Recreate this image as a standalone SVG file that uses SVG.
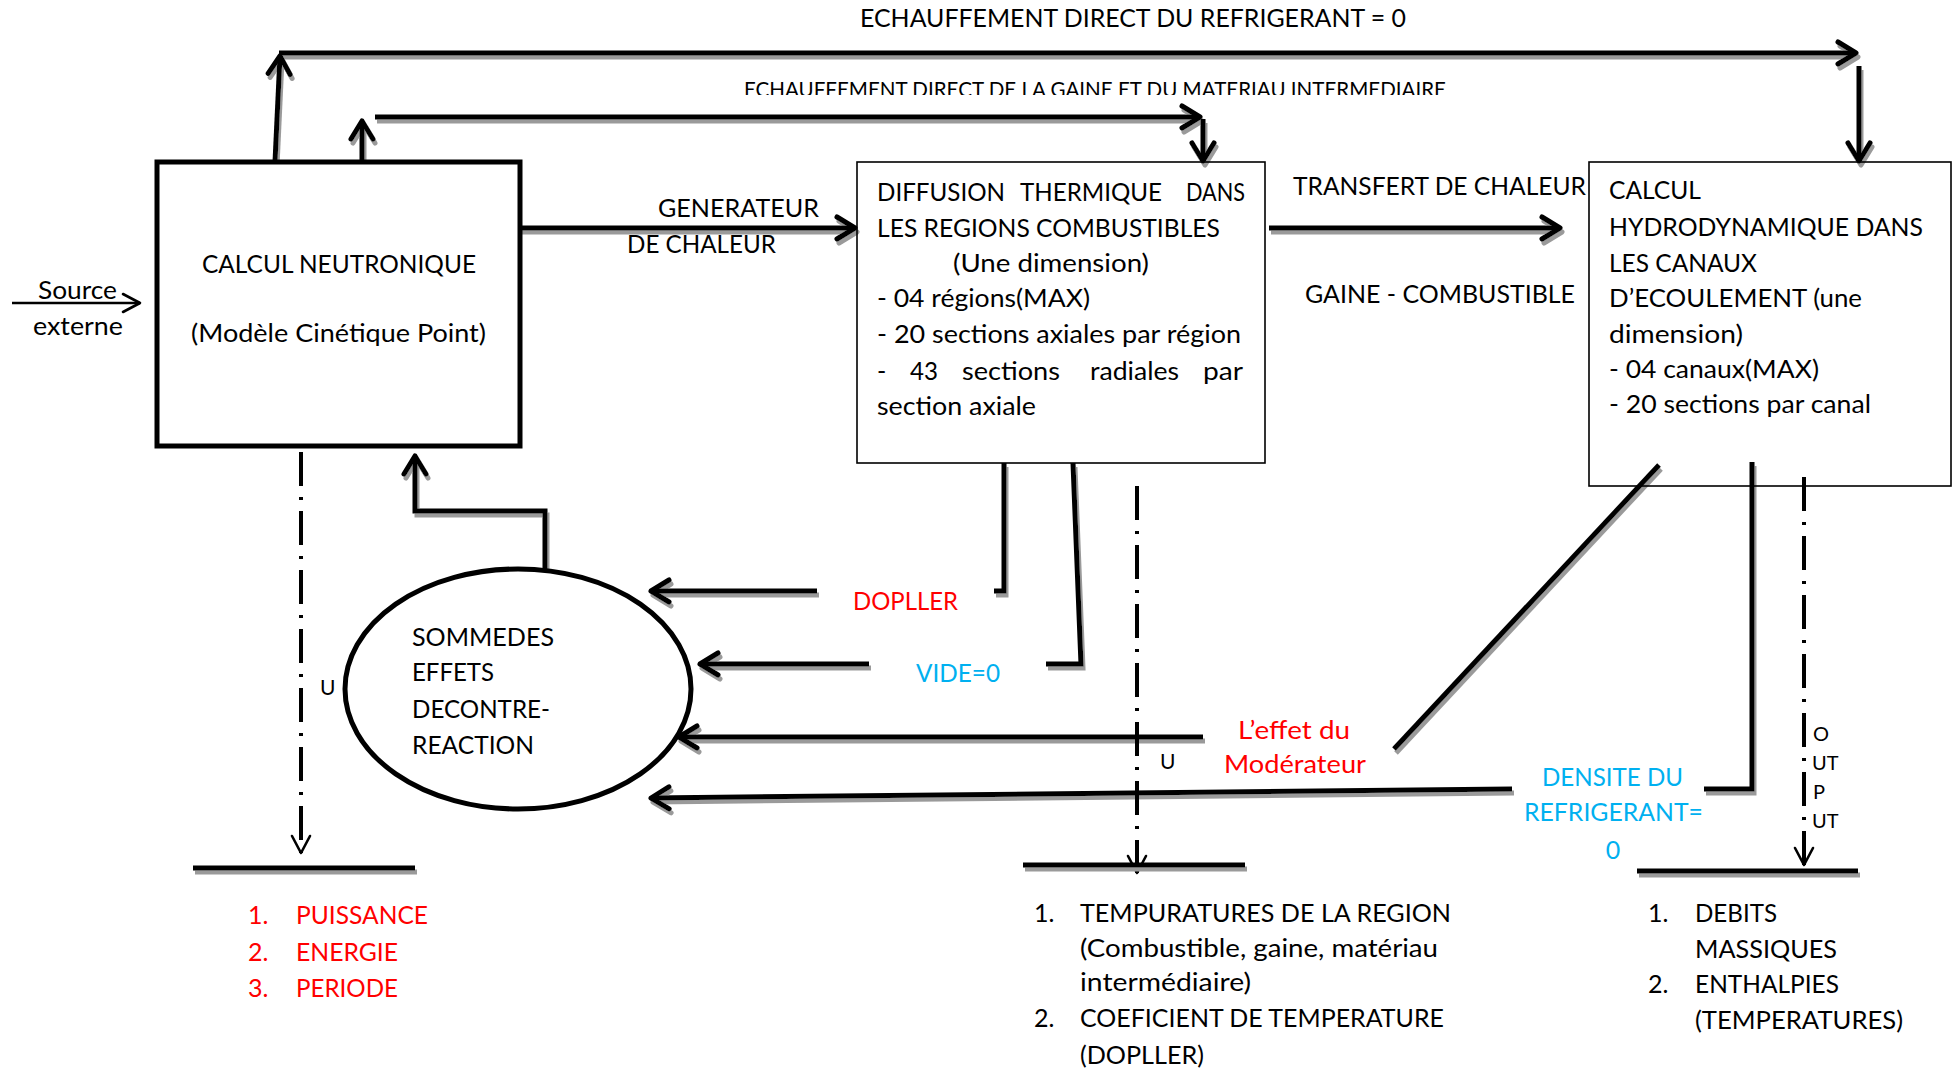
<svg xmlns="http://www.w3.org/2000/svg" width="1957" height="1073" viewBox="0 0 1957 1073">
  <style>
    text { font-family: Lato, "Liberation Sans", sans-serif; font-size: 25px; fill: #000; }
    .sm { font-size: 21px; }
    .xs { font-size: 20px; }
    .red { fill: #ff0000; }
    .cyan { fill: #00b0f0; }
    .thick { fill: none; stroke: #000; stroke-width: 5; stroke-linejoin: miter; }
    .thin { fill: none; stroke: #000; stroke-width: 1.6; }
    .dashdot { fill: none; stroke: #000; stroke-width: 4; stroke-dasharray: 34 11 3 11; }
  </style>
  <defs>
    <filter id="shadow" filterUnits="userSpaceOnUse" x="0" y="0" width="1957" height="1073">
      <feOffset in="SourceAlpha" dx="2" dy="4" result="off"/>
      <feFlood flood-color="#9a9a9a"/>
      <feComposite in2="off" operator="in" result="sh"/>
      <feMerge><feMergeNode in="sh"/><feMergeNode in="SourceGraphic"/></feMerge>
    </filter>
    <marker id="head" viewBox="-24 -15 28 30" refX="0" refY="0" markerWidth="28" markerHeight="30" orient="auto" markerUnits="userSpaceOnUse" overflow="visible">
      <path d="M-18,-11 L0,0 L-18,11" fill="none" stroke="#000" stroke-width="5" stroke-linecap="round" stroke-linejoin="round"/>
    </marker>
    <marker id="headThin" viewBox="-20 -12 24 24" refX="0" refY="0" markerWidth="24" markerHeight="24" orient="auto" markerUnits="userSpaceOnUse" overflow="visible">
      <path d="M-17,-9 L0,0 L-17,9" fill="none" stroke="#000" stroke-width="2.6" stroke-linecap="round" stroke-linejoin="round"/>
    </marker>
    <clipPath id="cutLabel"><rect x="700" y="60" width="800" height="35"/></clipPath>
  </defs>

  <!-- connectors -->
  <g id="connectors">
    <g filter="url(#shadow)">
      <!-- direct heating of coolant -->
      <polyline class="thick" points="275,162 280,56" marker-end="url(#head)"/>
      <line class="thick" x1="279" y1="53" x2="1856" y2="53" marker-end="url(#head)"/>
      <line class="thick" x1="1859" y1="66" x2="1859" y2="161" marker-end="url(#head)"/>
      <!-- direct heating of cladding -->
      <line class="thick" x1="362" y1="162" x2="362" y2="121" marker-end="url(#head)"/>
      <line class="thick" x1="375" y1="117" x2="1200" y2="117" marker-end="url(#head)"/>
      <line class="thick" x1="1203" y1="119" x2="1203" y2="161" marker-end="url(#head)"/>
      <!-- heat source and heat transfer -->
      <line class="thick" x1="520" y1="228" x2="855" y2="228" marker-end="url(#head)"/>
      <line class="thick" x1="1269" y1="228" x2="1560" y2="228" marker-end="url(#head)"/>
      <!-- reactivity feedback back to kinetics -->
      <polyline class="thick" points="545,569 545,511 415,511 415,456" marker-end="url(#head)"/>
      <!-- Doppler -->
      <polyline class="thick" points="1004,463 1004,591 994,591"/>
      <line class="thick" x1="817" y1="591" x2="651" y2="591" marker-end="url(#head)"/>
      <!-- void -->
      <polyline class="thick" points="1073,463 1081,664 1046,664"/>
      <line class="thick" x1="869" y1="664" x2="700" y2="664" marker-end="url(#head)"/>
      <!-- moderator -->
      <line class="thick" x1="1659" y1="465" x2="1394" y2="749"/>
      <line class="thick" x1="1203" y1="737" x2="679" y2="737" marker-end="url(#head)"/>
      <!-- coolant density -->
      <polyline class="thick" points="1752,462 1752,789 1704,789"/>
      <line class="thick" x1="1512" y1="789" x2="651" y2="798" marker-end="url(#head)"/>
    </g>
    <!-- external source -->
    <line x1="12" y1="303" x2="140" y2="303" stroke="#000" stroke-width="2.6" marker-end="url(#headThin)"/>
    <!-- outputs -->
    <line class="dashdot" x1="301" y1="452" x2="301" y2="853" marker-end="url(#headThin)"/>
    <line class="dashdot" x1="1137" y1="486" x2="1137" y2="873" marker-end="url(#headThin)"/>
    <line class="dashdot" x1="1804" y1="477" x2="1804" y2="865" marker-end="url(#headThin)"/>

    <text x="860" y="27" textLength="546" lengthAdjust="spacingAndGlyphs">ECHAUFFEMENT DIRECT DU REFRIGERANT = 0</text>
    <text class="sm" x="744" y="97" textLength="702" lengthAdjust="spacingAndGlyphs" clip-path="url(#cutLabel)">ECHAUFFEMENT DIRECT DE LA GAINE ET DU MATERIAU INTERMEDIAIRE</text>
    <text x="658" y="217" textLength="161" lengthAdjust="spacingAndGlyphs">GENERATEUR</text>
    <text x="627" y="253" textLength="149" lengthAdjust="spacingAndGlyphs">DE CHALEUR</text>
    <text x="1293" y="195" textLength="293" lengthAdjust="spacingAndGlyphs">TRANSFERT DE CHALEUR</text>
    <text x="1305" y="303" textLength="270" lengthAdjust="spacingAndGlyphs">GAINE - COMBUSTIBLE</text>
    <text x="38" y="299" textLength="79" lengthAdjust="spacingAndGlyphs">Source</text>
    <text x="33" y="335" textLength="90" lengthAdjust="spacingAndGlyphs">externe</text>
    <text class="red" x="853" y="610" textLength="105" lengthAdjust="spacingAndGlyphs">DOPLLER</text>
    <text class="cyan" x="916" y="682" textLength="84" lengthAdjust="spacingAndGlyphs">VIDE=0</text>
    <text class="red" x="1238" y="739" textLength="112" lengthAdjust="spacingAndGlyphs">L’effet du</text>
    <text class="red" x="1224" y="773" textLength="142" lengthAdjust="spacingAndGlyphs">Modérateur</text>
    <text class="cyan" x="1542" y="786" textLength="141" lengthAdjust="spacingAndGlyphs">DENSITE DU</text>
    <text class="cyan" x="1524" y="821" textLength="179" lengthAdjust="spacingAndGlyphs">REFRIGERANT=</text>
    <text class="cyan" x="1613" y="859" text-anchor="middle">0</text>
    <text class="sm" x="320" y="695">U</text>
    <text class="sm" x="1160" y="769">U</text>
    <text class="xs" x="1813" y="741">O</text>
    <text class="xs" x="1812" y="770">UT</text>
    <text class="xs" x="1813" y="799">P</text>
    <text class="xs" x="1812" y="828">UT</text>
  </g>

  <!-- point kinetics -->
  <g id="node-neutronique">
    <rect x="157" y="162" width="363" height="284" fill="#fff" stroke="#000" stroke-width="5"/>
    <text x="202" y="273" textLength="274" lengthAdjust="spacingAndGlyphs">CALCUL NEUTRONIQUE</text>
    <text x="191" y="342" textLength="295" lengthAdjust="spacingAndGlyphs">(Modèle Cinétique Point)</text>
  </g>

  <!-- thermal diffusion in fuel -->
  <g id="node-diffusion">
    <rect x="857" y="162" width="408" height="301" fill="#fff" class="thin"/>
    <text x="877" y="201" textLength="128" lengthAdjust="spacingAndGlyphs">DIFFUSION</text>
    <text x="1020" y="201" textLength="142" lengthAdjust="spacingAndGlyphs">THERMIQUE</text>
    <text x="1186" y="201" textLength="59" lengthAdjust="spacingAndGlyphs">DANS</text>
    <text x="877" y="237" textLength="343" lengthAdjust="spacingAndGlyphs">LES REGIONS COMBUSTIBLES</text>
    <text x="953" y="272" textLength="196" lengthAdjust="spacingAndGlyphs">(Une dimension)</text>
    <text x="877" y="307" textLength="213" lengthAdjust="spacingAndGlyphs">- 04 régions(MAX)</text>
    <text x="877" y="343" textLength="364" lengthAdjust="spacingAndGlyphs">- 20 sections axiales par région</text>
    <text x="877" y="380">-</text>
    <text x="910" y="380" textLength="28" lengthAdjust="spacingAndGlyphs">43</text>
    <text x="962" y="380" textLength="98" lengthAdjust="spacingAndGlyphs">sections</text>
    <text x="1090" y="380" textLength="89" lengthAdjust="spacingAndGlyphs">radiales</text>
    <text x="1203" y="380" textLength="40" lengthAdjust="spacingAndGlyphs">par</text>
    <text x="877" y="415" textLength="159" lengthAdjust="spacingAndGlyphs">section axiale</text>
  </g>

  <!-- channel hydrodynamics -->
  <g id="node-hydrodynamique">
    <rect x="1589" y="162" width="362" height="324" fill="#fff" class="thin"/>
    <text x="1609" y="199" textLength="92" lengthAdjust="spacingAndGlyphs">CALCUL</text>
    <text x="1609" y="236" textLength="314" lengthAdjust="spacingAndGlyphs">HYDRODYNAMIQUE DANS</text>
    <text x="1609" y="272" textLength="148" lengthAdjust="spacingAndGlyphs">LES CANAUX</text>
    <text x="1609" y="307" textLength="253" lengthAdjust="spacingAndGlyphs">D’ECOULEMENT (une</text>
    <text x="1609" y="343" textLength="134" lengthAdjust="spacingAndGlyphs">dimension)</text>
    <text x="1609" y="378" textLength="210" lengthAdjust="spacingAndGlyphs">- 04 canaux(MAX)</text>
    <text x="1609" y="413" textLength="262" lengthAdjust="spacingAndGlyphs">- 20 sections par canal</text>
  </g>

  <!-- sum of feedback effects -->
  <g id="node-contre-reaction">
    <ellipse cx="518" cy="689" rx="173" ry="120" fill="#fff" stroke="#000" stroke-width="5"/>
    <text x="412" y="646" textLength="142" lengthAdjust="spacingAndGlyphs">SOMMEDES</text>
    <text x="412" y="681" textLength="82" lengthAdjust="spacingAndGlyphs">EFFETS</text>
    <text x="412" y="718" textLength="138" lengthAdjust="spacingAndGlyphs">DECONTRE-</text>
    <text x="412" y="754" textLength="122" lengthAdjust="spacingAndGlyphs">REACTION</text>
  </g>

  <!-- kinetics outputs -->
  <g id="sortie-neutronique">
    <line class="thick" x1="193" y1="868" x2="415" y2="868" filter="url(#shadow)"/>
    <text class="red" x="248" y="924">1.</text>
    <text class="red" x="296" y="924" textLength="132" lengthAdjust="spacingAndGlyphs">PUISSANCE</text>
    <text class="red" x="248" y="961">2.</text>
    <text class="red" x="296" y="961" textLength="102" lengthAdjust="spacingAndGlyphs">ENERGIE</text>
    <text class="red" x="248" y="997">3.</text>
    <text class="red" x="296" y="997" textLength="102" lengthAdjust="spacingAndGlyphs">PERIODE</text>
  </g>

  <!-- thermal outputs -->
  <g id="sortie-thermique">
    <line class="thick" x1="1023" y1="865" x2="1245" y2="865" filter="url(#shadow)"/>
    <text x="1034" y="922">1.</text>
    <text x="1080" y="922" textLength="371" lengthAdjust="spacingAndGlyphs">TEMPURATURES DE LA REGION</text>
    <text x="1080" y="957" textLength="358" lengthAdjust="spacingAndGlyphs">(Combustible, gaine, matériau</text>
    <text x="1080" y="991" textLength="171" lengthAdjust="spacingAndGlyphs">intermédiaire)</text>
    <text x="1034" y="1027">2.</text>
    <text x="1080" y="1027" textLength="364" lengthAdjust="spacingAndGlyphs">COEFICIENT DE TEMPERATURE</text>
    <text x="1080" y="1064" textLength="124" lengthAdjust="spacingAndGlyphs">(DOPLLER)</text>
  </g>

  <!-- hydraulic outputs -->
  <g id="sortie-hydrodynamique">
    <line class="thick" x1="1637" y1="871" x2="1858" y2="871" filter="url(#shadow)"/>
    <text x="1648" y="922">1.</text>
    <text x="1695" y="922" textLength="82" lengthAdjust="spacingAndGlyphs">DEBITS</text>
    <text x="1695" y="958" textLength="142" lengthAdjust="spacingAndGlyphs">MASSIQUES</text>
    <text x="1648" y="993">2.</text>
    <text x="1695" y="993" textLength="144" lengthAdjust="spacingAndGlyphs">ENTHALPIES</text>
    <text x="1695" y="1029" textLength="208" lengthAdjust="spacingAndGlyphs">(TEMPERATURES)</text>
  </g>
</svg>
